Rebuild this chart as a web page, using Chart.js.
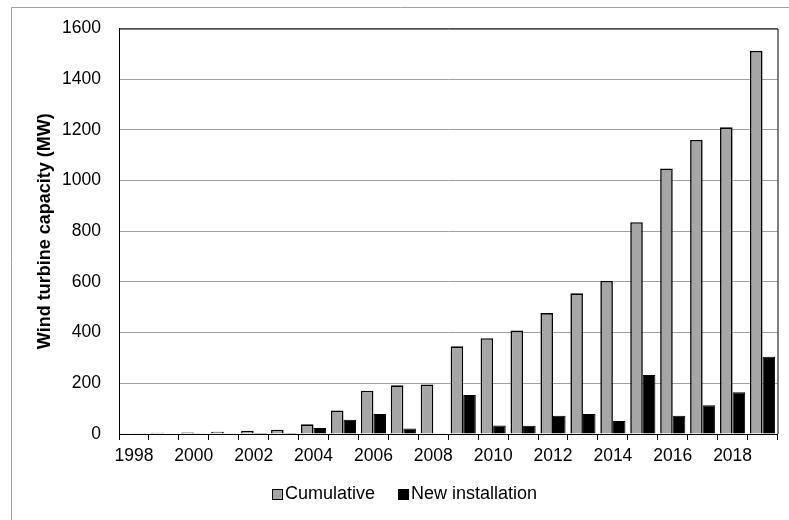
<!DOCTYPE html>
<html>
<head>
<meta charset="utf-8">
<script src="https://cdn.jsdelivr.net/npm/chart.js@4/dist/chart.umd.min.js"></script>
<style>
  html, body { margin: 0; padding: 0; background: #ffffff; }
  #wrap { position: relative; width: 789px; height: 520px; }
  canvas { display: block; }
</style>
</head>
<body>
<div id="wrap"><canvas id="c" width="789" height="520"></canvas></div>
<script>
// ---- data ----
const years = ['1998','1999','2000','2001','2002','2003','2004','2005','2006','2007','2008',
               '2009','2010','2011','2012','2013','2014','2015','2016','2017','2018','2019'];
const cumulative = [3, 5, 6, 9, 13, 17, 38, 93, 171, 192, 195, 346, 378, 408, 477, 555, 604, 836, 1048, 1160, 1210, 1512];
const newInstallation = [1, 2, 1, 3, 4, 4, 24, 56, 79, 22, 3, 154, 34, 33, 72, 79, 51, 233, 72, 113, 165, 305];
const seriesNames = ['Cumulative', 'New installation'];
const yTicks = [0, 200, 400, 600, 800, 1000, 1200, 1400, 1600];
const yTitle = 'Wind turbine capacity (MW)';

const FONT = '"Liberation Sans", Arial, sans-serif';

// frame around plot + outer frame
const framePlugin = {
  id: 'frames',
  beforeDraw(chart) {
    const ctx = chart.ctx;
    ctx.save();
    ctx.strokeStyle = '#a0a0a0';
    ctx.lineWidth = 1;
    ctx.beginPath();
    ctx.moveTo(11.5, 520);
    ctx.lineTo(11.5, 7.5);
    ctx.lineTo(789, 7.5);
    ctx.stroke();
    ctx.restore();
  },
  afterDatasetsDraw(chart) {
    const a = chart.chartArea;
    const ctx = chart.ctx;
    ctx.save();
    ctx.strokeStyle = '#000';
    ctx.lineWidth = 1;
    ctx.beginPath();
    ctx.moveTo(a.left, a.top + 0.5);
    ctx.lineTo(a.right + 0.5, a.top + 0.5);
    ctx.lineTo(a.right + 0.5, a.bottom);
    ctx.stroke();
    ctx.restore();
  }
};

// custom legend
const legendPlugin = {
  id: 'customLegend',
  afterDraw(chart) {
    const ctx = chart.ctx;
    ctx.save();
    ctx.font = '18px ' + FONT;
    ctx.textBaseline = 'middle';
    const box = 11, gapText = 2, gapItem = 23;
    const items = chart.data.datasets.map(d => ({ label: d.label, fill: d.backgroundColor }));
    items.forEach(it => { it.w = ctx.measureText(it.label).width; });
    let x = 272;
    const cy = 494.5;
    items.forEach(it => {
      ctx.fillStyle = it.fill;
      ctx.fillRect(x, cy - box / 2, box, box);
      ctx.strokeStyle = '#000';
      ctx.lineWidth = 1;
      ctx.strokeRect(x + 0.5, cy - box / 2 + 0.5, box - 1, box - 1);
      ctx.fillStyle = '#000';
      ctx.fillText(it.label, x + box + gapText, cy);
      x += box + gapText + it.w + gapItem;
    });
    ctx.restore();
  }
};

new Chart(document.getElementById('c'), {
  type: 'bar',
  data: {
    labels: years,
    datasets: [
      { label: seriesNames[0], data: cumulative, backgroundColor: '#a6a6a6', borderColor: '#000', borderWidth: 1.6 },
      { label: seriesNames[1], data: newInstallation, backgroundColor: '#000000', borderColor: '#000', borderWidth: 1 }
    ]
  },
  options: {
    responsive: false,
    animation: false,
    devicePixelRatio: 1,
    layout: { padding: { left: 34, right: 11.5, top: 28.5, bottom: 0 } },
    plugins: { legend: { display: false }, tooltip: { enabled: false } },
    datasets: { bar: { barPercentage: 1.0, categoryPercentage: 0.84 } },
    scales: {
      x: {
        type: 'category',
        offset: true,
        grid: { offset: true, drawOnChartArea: false, drawTicks: true, tickLength: 6, color: '#000', lineWidth: 1 },
        border: { display: true, color: '#000', width: 1 },
        ticks: {
          autoSkip: false,
          maxRotation: 0,
          padding: 6,
          color: '#000',
          font: { family: FONT, size: 17.5 },
          callback: function(v, i) { return i % 2 === 0 ? years[i] : ''; }
        },
        afterFit(scale) { scale.height = 86; }
      },
      y: {
        min: 0,
        max: 1600,
        afterBuildTicks(scale) { scale.ticks = yTicks.map(v => ({ value: v })); },
        grid: { color: '#a0a0a0', lineWidth: 1, drawTicks: false },
        border: { display: true, color: '#000', width: 1 },
        ticks: { padding: 18, color: '#000', font: { family: FONT, size: 17.5 },
                 callback: function(v) { return String(v); } },
        title: { display: true, text: yTitle, color: '#000', font: { family: FONT, size: 18, weight: 'bold' }, padding: { top: 0, bottom: 0 } },
        afterFit(scale) { scale.width = 85; }
      }
    }
  },
  plugins: [framePlugin, legendPlugin]
});
</script>
</body>
</html>
